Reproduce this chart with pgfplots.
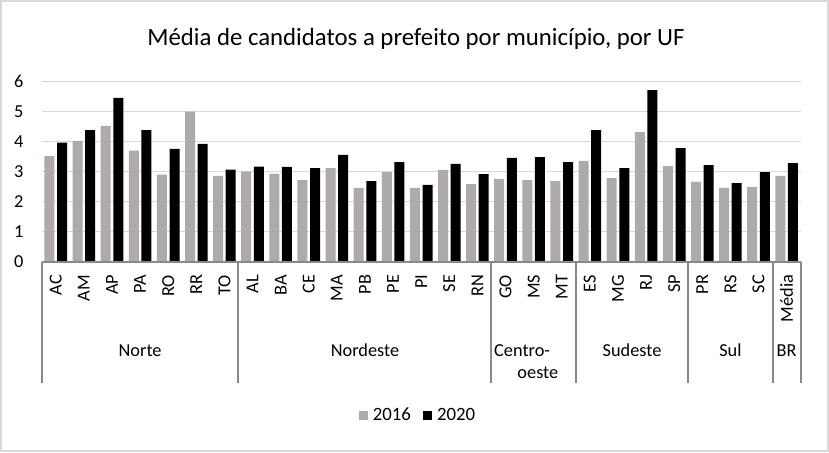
\documentclass[border=0pt]{standalone}
\usepackage{pgfplots}
\pgfplotsset{compat=1.18}
\usepackage{fontspec}
\setmainfont{Carlito}
\definecolor{bargray}{HTML}{AEAAAA}
\definecolor{gridc}{HTML}{D9D9D9}
\definecolor{axc}{HTML}{898989}
\newcommand{\lblfont}{\fontsize{18.3}{22}\selectfont}
\begin{document}
\begin{tikzpicture}
\useasboundingbox (0pt,0pt) rectangle (829pt,452pt);
\draw[gridc, line width=2pt] (1pt,1pt) rectangle (828pt,451pt);
\node[anchor=base, inner sep=0pt, font=\fontsize{24.8}{30}\selectfont] at (416pt,406pt) {Média de candidatos a prefeito por município, por UF};
\begin{axis}[
  at={(41.7pt,190.3pt)}, anchor=south west,
  scale only axis, width=759pt, height=180pt,
  xmin=0, xmax=27, ymin=0, ymax=6,
  axis line style={draw=none},
  major tick length=0pt,
  ytick={0,1,2,3,4,5,6},
  ymajorgrids, grid style={gridc, line width=1.3pt},
  xtick={0.5,1.5,...,26.5},
  xticklabels={AC,AM,AP,PA,RO,RR,TO,AL,BA,CE,MA,PB,PE,PI,SE,RN,GO,MS,MT,ES,MG,RJ,SP,PR,RS,SC,Média},
  xticklabel style={rotate=90, anchor=east, inner sep=0pt, xshift=-13pt, font=\lblfont},
  yticklabel style={anchor=east, inner sep=0pt, xshift=-18pt, font=\lblfont},
  /pgf/number format/assume math mode=true,
  clip=false,
  legend columns=2,
  legend style={at={(axis description cs:0.4958,-0.8517)}, anchor=center, draw=none, fill=none, font=\fontsize{18.8}{22}\selectfont,
    /tikz/every odd column/.append style={column sep=3pt},
    /tikz/every even column/.append style={column sep=10pt}},
  legend image code/.code={\fill[#1] (0pt,-4.5pt) rectangle (9pt,4.5pt);},
]
\addplot[ybar, bar width=10pt, bar shift=-6.3pt, fill=bargray, draw=none] coordinates {
(0.5,3.52) (1.5,4.03) (2.5,4.53) (3.5,3.70) (4.5,2.90) (5.5,5.00) (6.5,2.86)
(7.5,3.00) (8.5,2.93) (9.5,2.72) (10.5,3.12) (11.5,2.46) (12.5,2.99) (13.5,2.46) (14.5,3.06) (15.5,2.59)
(16.5,2.76) (17.5,2.72) (18.5,2.69)
(19.5,3.36) (20.5,2.79) (21.5,4.32) (22.5,3.19)
(23.5,2.66) (24.5,2.46) (25.5,2.49)
(26.5,2.86)};
\addlegendentry{2016}
\addplot[ybar, bar width=10pt, bar shift=6.3pt, fill=black, draw=none] coordinates {
(0.5,3.97) (1.5,4.39) (2.5,5.46) (3.5,4.39) (4.5,3.76) (5.5,3.93) (6.5,3.07)
(7.5,3.17) (8.5,3.16) (9.5,3.12) (10.5,3.56) (11.5,2.69) (12.5,3.32) (13.5,2.56) (14.5,3.26) (15.5,2.92)
(16.5,3.46) (17.5,3.49) (18.5,3.32)
(19.5,4.39) (20.5,3.12) (21.5,5.72) (22.5,3.79)
(23.5,3.22) (24.5,2.62) (25.5,2.99)
(26.5,3.29)};
\addlegendentry{2020}
\draw[axc, line width=2pt] (axis cs:0,0) -- (axis cs:27,0);
\draw[axc, line width=2pt] (axis cs:0,0) -- ++(0pt,-121pt);
\draw[axc, line width=2pt] (axis cs:7,0) -- ++(0pt,-121pt);
\draw[axc, line width=2pt] (axis cs:16,0) -- ++(0pt,-121pt);
\draw[axc, line width=2pt] (axis cs:19,0) -- ++(0pt,-121pt);
\draw[axc, line width=2pt] (axis cs:23,0) -- ++(0pt,-121pt);
\draw[axc, line width=2pt] (axis cs:26,0) -- ++(0pt,-121pt);
\draw[axc, line width=2pt] (axis cs:27,0) -- ++(0pt,-121pt);
\node[anchor=base, inner sep=0pt, font=\lblfont, yshift=-94.3pt] at (axis cs:3.5,0) {Norte};
\node[anchor=base, inner sep=0pt, font=\lblfont, yshift=-94.3pt] at (axis cs:11.5,0) {Nordeste};
\node[anchor=base, inner sep=0pt, font=\lblfont, yshift=-95pt] at (axis cs:17.09,0) {Centro-};
\node[anchor=base, inner sep=0pt, font=\lblfont, yshift=-116.6pt] at (axis cs:17.65,0) {oeste};
\node[anchor=base, inner sep=0pt, font=\lblfont, yshift=-94.3pt] at (axis cs:21,0) {Sudeste};
\node[anchor=base, inner sep=0pt, font=\lblfont, yshift=-94.3pt] at (axis cs:24.5,0) {Sul};
\node[anchor=base, inner sep=0pt, font=\lblfont, yshift=-94.3pt] at (axis cs:26.5,0) {BR};
\end{axis}
\end{tikzpicture}
\end{document}
